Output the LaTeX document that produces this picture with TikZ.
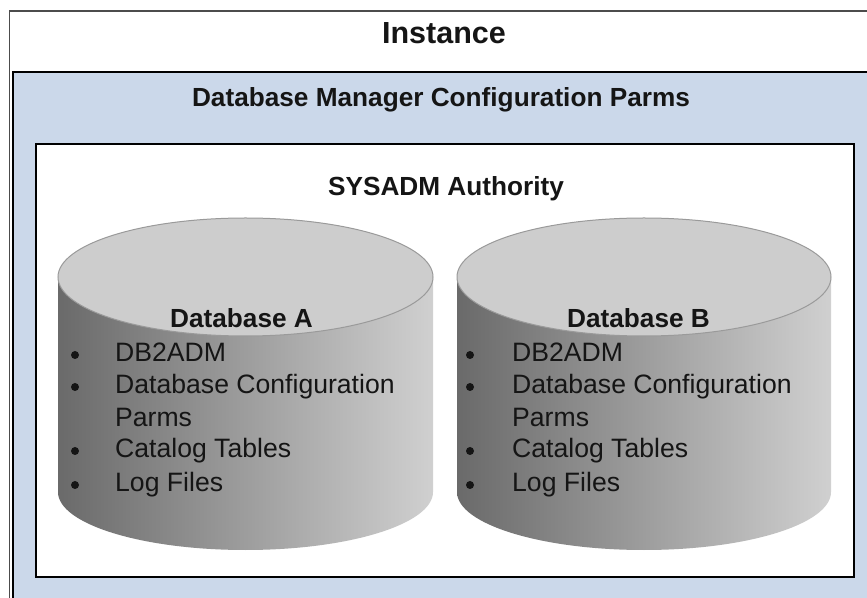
\documentclass[tikz,border=0pt]{standalone}
\usepackage{fontspec}
\setmainfont{Liberation Sans}
\usetikzlibrary{shadings}
\definecolor{bluefill}{HTML}{CBD8EA}
\definecolor{cylL}{HTML}{6A6A6A}
\definecolor{cylR}{HTML}{D0D0D0}
\definecolor{cyltop}{HTML}{CDCDCD}
\definecolor{cylline}{HTML}{9A9A9A}
\definecolor{txt}{HTML}{151515}
\tikzset{
  title/.style={anchor=base, inner sep=0pt, text=txt, font=\bfseries\fontsize{30.5}{31}\selectfont},
  head/.style={anchor=base, inner sep=0pt, text=txt, font=\bfseries\fontsize{26.2}{27}\selectfont},
  item/.style={anchor=base west, inner sep=0pt, text=txt, font=\fontsize{26.6}{27}\selectfont},
  dot/.style={circle, fill=txt, inner sep=0pt, minimum size=8pt},
  frame/.style={draw=black, line width=2.5pt},
}
\begin{document}
\begin{tikzpicture}[x=1pt,y=1pt]
\useasboundingbox (0,0) rectangle (867,597);
\clip (0,0) rectangle (867,597);
% outer instance box
\draw[draw=black!70, line width=1.2pt, fill=white] (9.5,-20) rectangle (900,586);
% blue DBM box
\draw[frame, fill=bluefill] (13,-20) rectangle (900,525);
% inner white box
\draw[frame, fill=white] (36,20) rectangle (854,453);
% cylinders
\foreach \cx/\rx in {245.5/187.5, 644/187}{
  \shade[left color=cylL, right color=cylR]
    (\cx-\rx,320) -- (\cx-\rx,105) arc[start angle=180, end angle=360, x radius=\rx, y radius=58]
    -- (\cx+\rx,320) -- cycle;
  \draw[fill=cyltop, draw=cylline, line width=1pt] (\cx,320) ellipse[x radius=\rx, y radius=59];
}
% texts
\node[title] (inst) at (444,553) {Instance};
\node[head] (dbm) at (441,490) {Database Manager Configuration Parms};
\node[head] (sys) at (446,401) {SYSADM Authority};
\node[head] (dba) at (241.5,269) {Database A};
\node[head] (dbb) at (638.5,269) {Database B};
% Database A items
\node[item] (a1) at (115,235) {DB2ADM};
\node[item] (a2) at (115,203) {Database Configuration};
\node[item] (a3) at (115,170) {Parms};
\node[item] (a4) at (115,139) {Catalog Tables};
\node[item] (a5) at (115,105) {Log Files};
\node[dot] (ba1) at (75,242) {};
\node[dot] (ba2) at (75,210) {};
\node[dot] (ba4) at (75,146) {};
\node[dot] (ba5) at (75,112) {};
% Database B items
\node[item] (b1) at (512,235) {DB2ADM};
\node[item] (b2) at (512,203) {Database Configuration};
\node[item] (b3) at (512,170) {Parms};
\node[item] (b4) at (512,139) {Catalog Tables};
\node[item] (b5) at (512,105) {Log Files};
\node[dot] (bb1) at (470,242) {};
\node[dot] (bb2) at (470,210) {};
\node[dot] (bb4) at (470,146) {};
\node[dot] (bb5) at (470,112) {};
\end{tikzpicture}
\end{document}
